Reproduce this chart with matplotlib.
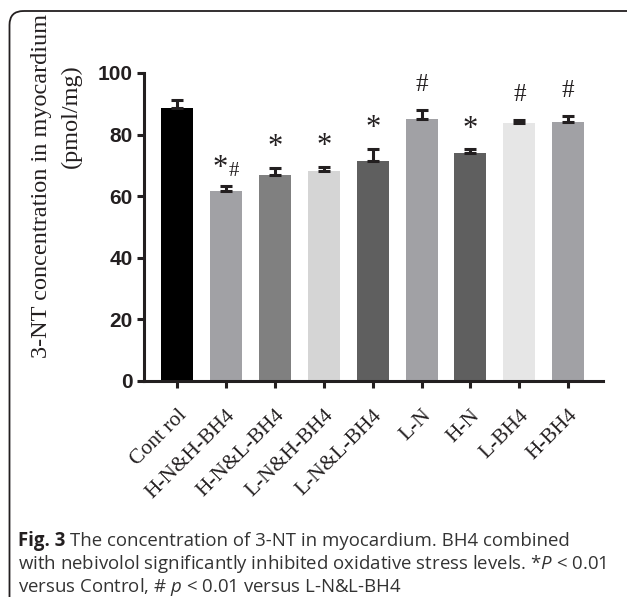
import matplotlib
matplotlib.use('Agg')
import matplotlib.pyplot as plt
from matplotlib.patches import FancyBboxPatch
import numpy as np

# data
groups = ['Cont rol', 'H-N&H-BH4', 'H-N&L-BH4', 'L-N&H-BH4', 'L-N&L-BH4',
          'L-N', 'H-N', 'L-BH4', 'H-BH4']
means = [88.5, 61.8, 66.9, 68.2, 71.3, 85.0, 74.1, 83.7, 84.1]
errors = [2.6, 1.6, 2.3, 1.4, 4.1, 3.0, 1.2, 1.0, 1.9]
marks = ['', '*#', '*', '*', '*', '#', '*', '#', '#']
bar_colors = ['#000000', '#a1a1a5', '#808080', '#d5d5d5', '#5f5f5f',
              '#a1a1a5', '#5f5f5f', '#e6e6e6', '#a1a1a5']
yticks = [0, 20, 40, 60, 80, 100]

ink = '#231f20'
plt.rcParams['mathtext.fontset'] = 'custom'
plt.rcParams['mathtext.rm'] = 'Open Sans'
plt.rcParams['mathtext.it'] = 'Open Sans:italic'

W, H = 627, 597
fig = plt.figure(figsize=(W / 100, H / 100), dpi=100)

# rounded frame around the whole panel
bg = fig.add_axes([0, 0, 1, 1], zorder=-5)
bg.set_xlim(0, W)
bg.set_ylim(H, 0)
bg.axis('off')
bg.add_patch(FancyBboxPatch((9.5, 11), 640, 620, boxstyle='round,pad=0,rounding_size=14',
                            fc='none', ec=ink, lw=1.3))

ax = fig.add_axes([144 / W, (H - 381) / H, (603 - 144) / W, (381 - 73) / H])
x = np.arange(len(groups))
ax.bar(x, means, width=0.655, color=bar_colors, zorder=2)
ax.errorbar(x, means, yerr=[np.zeros(len(x)), errors], fmt='none', ecolor=ink,
            elinewidth=2.2, capsize=4.3, capthick=2.2, zorder=3)

# significance marks above the error bars
for i, m in enumerate(marks):
    top = means[i] + errors[i]
    if m == '*#':
        ax.text(i - 0.12, top + 5.5, '*', ha='center', va='center', fontsize=22,
                family='Liberation Serif', color=ink)
        ax.text(i + 0.16, top + 4.6, '#', ha='center', va='center', fontsize=15,
                family='Liberation Serif', color=ink)
    elif m == '*':
        ax.text(i, top + 6.5, m, ha='center', va='center', fontsize=22,
                family='Liberation Serif', color=ink)
    elif m:
        ax.text(i, top + 8, m, ha='center', va='center', fontsize=18,
                family='Liberation Serif', color=ink)

ax.set_xlim(-0.675, 8.71)
ax.set_ylim(0, 100)
ax.spines['top'].set_visible(False)
ax.spines['right'].set_visible(False)
for s in ['left', 'bottom']:
    ax.spines[s].set_linewidth(2.2)
    ax.spines[s].set_color(ink)
ax.set_yticks(yticks)
ax.set_yticklabels([str(v) for v in yticks], fontsize=15, fontweight='bold',
                   family='Liberation Sans', color=ink)
ax.set_xticks(x)
ax.set_xticklabels(groups, rotation=45, ha='right', va='top', rotation_mode='anchor',
                   fontsize=15.5, family='Liberation Serif', color=ink)
ax.tick_params(axis='both', length=5, width=2.2, color=ink)
ax.tick_params(axis='y', pad=3)
ax.tick_params(axis='x', pad=13)

fig.text(42 / W, 1 - 186 / H, '3-NT concentration in myocardium', rotation=90,
         ha='center', va='center', fontsize=17.5, family='Liberation Serif', color=ink)
fig.text(71 / W, 1 - 116 / H, '(pmol/mg)', rotation=90,
         ha='center', va='center', fontsize=17.5, family='Liberation Serif', color=ink)

# caption: bold "Fig. 3" then normal text
renderer = fig.canvas.get_renderer()
cap_size = 13.4
cap_y = [541, 564, 587]
t = fig.text(18 / W, 1 - cap_y[0] / H, 'Fig. 3', ha='left', va='center',
             fontsize=cap_size, family='Open Sans', fontweight='bold', color=ink)
bb = t.get_window_extent(renderer)
fig.text((bb.x1 + 5) / W, 1 - cap_y[0] / H,
         'The concentration of 3-NT in myocardium. BH4 combined',
         ha='left', va='center', fontsize=cap_size, family='Open Sans', color='#333333')
cap_rest = [r'with nebivolol significantly inhibited oxidative stress levels. *$P$ < 0.01',
            r'versus Control, # $p$ < 0.01 versus L-N&L-BH4']
for k, line in enumerate(cap_rest):
    fig.text(18 / W, 1 - cap_y[k + 1] / H, line, ha='left', va='center',
             fontsize=cap_size, family='Open Sans', color='#333333')

fig.savefig('out.png', dpi=100)
